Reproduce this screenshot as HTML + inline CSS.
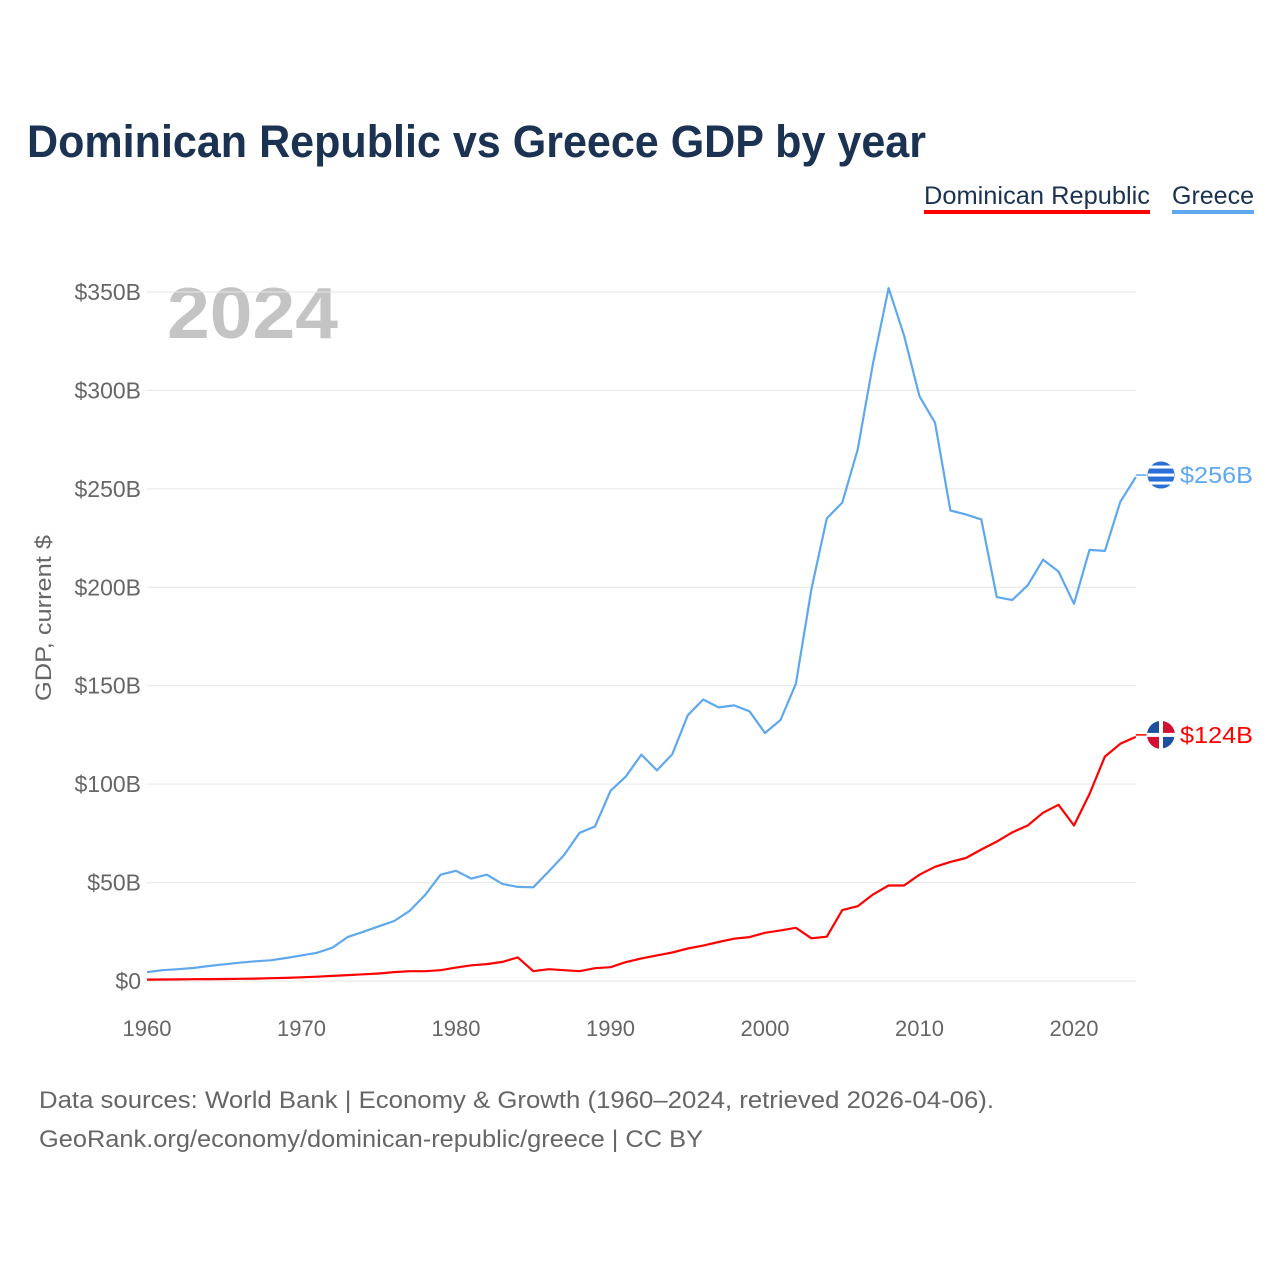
<!DOCTYPE html>
<html><head><meta charset="utf-8"><style>
body{margin:0;background:#fff;font-family:"Liberation Sans",sans-serif}
</style></head><body>
<svg width="1280" height="1280" xmlns="http://www.w3.org/2000/svg">
<text x="27" y="157" font-size="45" font-weight="bold" fill="#1b3252" textLength="899" lengthAdjust="spacingAndGlyphs">Dominican Republic vs Greece GDP by year</text>
<g><text x="924" y="204" font-size="25" fill="#1b3252" textLength="226" lengthAdjust="spacingAndGlyphs">Dominican Republic</text><rect x="924" y="210" width="226" height="4" fill="#ff0000"/></g>
<g><text x="1172" y="204" font-size="25" fill="#1b3252" textLength="82" lengthAdjust="spacingAndGlyphs">Greece</text><rect x="1172" y="210" width="82" height="4" fill="#5fa8ee"/></g>
<text x="167" y="338" font-size="72" font-weight="bold" fill="#c4c4c4" textLength="171" lengthAdjust="spacingAndGlyphs">2024</text>
<text transform="translate(51,618) rotate(-90)" text-anchor="middle" font-size="22" fill="#666" textLength="166" lengthAdjust="spacingAndGlyphs">GDP, current $</text>
<g id="grid"></g><g id="yt"></g><g id="xt"></g><g id="lines"></g>
<text x="39" y="1108" font-size="24" fill="#666" textLength="955" lengthAdjust="spacingAndGlyphs">Data sources: World Bank | Economy &amp; Growth (1960–2024, retrieved 2026-04-06).</text>
<text x="39" y="1147" font-size="24" fill="#666" textLength="664" lengthAdjust="spacingAndGlyphs">GeoRank.org/economy/dominican-republic/greece | CC BY</text>
</svg>
<script>
const years=[];for(let y=1960;y<=2024;y++)years.push(y);
const greece=[4.5,5.5,6,6.6,7.6,8.5,9.3,10,10.5,11.7,13,14.3,16.9,22.4,25,27.8,30.5,35.6,43.7,54,56,52,54,49.3,47.8,47.6,55.6,64,75.3,78.5,96.6,104,115,107,115.2,135,143,139,140,137,126,132.6,151,199,235,243,270,314,352,328,297,283.6,239,237,234.5,195,193.5,201,214,208,191.6,219,218.5,243.4,256];
const dr=[0.7,0.75,0.8,0.9,0.95,1,1.1,1.2,1.4,1.6,1.9,2.2,2.6,3,3.4,3.8,4.5,5,5,5.5,6.8,8,8.6,9.7,12,5,6,5.5,5,6.5,7,9.6,11.5,13,14.5,16.5,18,19.8,21.5,22.3,24.5,25.7,27,21.7,22.5,36,38,44,48.5,48.5,54,58,60.5,62.5,66.8,70.8,75.5,79,85.5,89.5,79,95,114,120.5,124];
const yTicks=[0,50,100,150,200,250,300,350];
const yLabels=["$0","$50B","$100B","$150B","$200B","$250B","$300B","$350B"];
const xTicks=[1960,1970,1980,1990,2000,2010,2020];
const X=y=>147+(y-1960)*(1074-147)/60;
const Y=v=>981-v*(981-292)/350;
const NS="http://www.w3.org/2000/svg";
function mk(t,a,p){const e=document.createElementNS(NS,t);for(const k in a)e.setAttribute(k,a[k]);p.appendChild(e);return e;}
const grid=document.getElementById('grid'),yt=document.getElementById('yt'),xt=document.getElementById('xt'),lines=document.getElementById('lines');
yTicks.forEach((v,i)=>{
 const l=mk('line',{x1:147,x2:1136,y1:Y(v),y2:Y(v),stroke:'#e6e6e6','stroke-width':1},grid);
 
 
 const t=mk('text',{x:141,y:Y(v)+8,'text-anchor':'end','font-size':23,fill:'#666'},yt);
 t.textContent=yLabels[i];
 
 
});
xTicks.forEach(y=>{
 const t=mk('text',{x:X(y),y:1036,'text-anchor':'middle','font-size':22,fill:'#666'},xt);
 t.textContent=y;
 
 
});
function series(d,c,name){
 const p=mk('path',{d:d.map((v,i)=>(i?'L':'M')+X(years[i]).toFixed(1)+','+Y(v).toFixed(1)).join(''),fill:'none',stroke:c,'stroke-width':2.2,'stroke-linejoin':'round'},lines);
 
 
 const last=d[d.length-1],yy=Y(last)-2;
 mk('line',{x1:X(2024),x2:1150,y1:yy,y2:yy,stroke:c,'stroke-width':1.5},lines);
 const fl=mk('circle',{cx:1161,cy:yy,r:14,fill:name==='greece'?'#2a6fd6':'#1d4fa0',stroke:'#fff','stroke-width':1},lines);
 
 
 if(name==='greece'){for(let k=-2;k<=2;k+=2)mk('rect',{x:1148,y:yy+k*4-1.5,width:26,height:3,fill:'#fff'},lines);}
 else{mk('path',{d:`M1147,${yy}A14,14 0 0 1 1161,${yy-14}L1161,${yy}Z`,fill:'#1d4fa0'},lines);mk('path',{d:`M1161,${yy-14}A14,14 0 0 1 1175,${yy}L1161,${yy}Z`,fill:'#d21034'},lines);mk('path',{d:`M1147,${yy}A14,14 0 0 0 1161,${yy+14}L1161,${yy}Z`,fill:'#d21034'},lines);mk('rect',{x:1147,y:yy-2,width:28,height:4,fill:'#fff'},lines);mk('rect',{x:1159,y:yy-14,width:4,height:28,fill:'#fff'},lines);}
 const t=mk('text',{x:1180,y:yy+8,'font-size':23,fill:c,textLength:73,lengthAdjust:'spacingAndGlyphs'},lines);
 t.textContent='$'+Math.round(last)+'B';
 
 
}
series(greece,'#5fa8ee','greece');
series(dr,'#ff0000','dominican-republic');
</script>
</body></html>
